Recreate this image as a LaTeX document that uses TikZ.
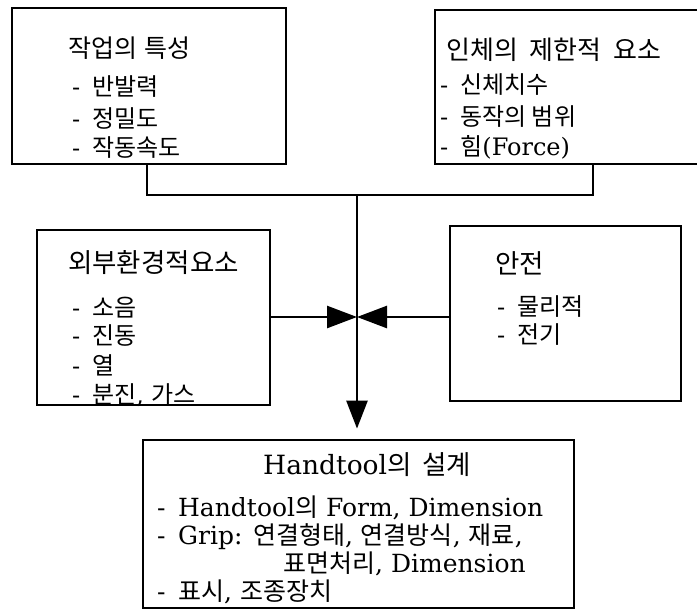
\documentclass[tikz,border=0pt]{standalone}
\usepackage{fontspec}
\setmainfont{DejaVu Serif}
\newfontfamily\kr{Noto Sans CJK KR}
\newcommand{\kor}[1]{{\kr #1}}
\newcommand{\dsh}{-\hspace{0.5em}}
\usetikzlibrary{arrows.meta}
\tikzset{
  box/.style={draw, line width=2.8pt, inner sep=0pt},
  conn/.style={line width=2.6pt},
  harr/.style={line width=2.6pt, -{Triangle[length=30pt,width=22pt]}},
  varr/.style={line width=2.6pt, -{Triangle[length=28pt,width=21pt]}},
  ttl/.style={anchor=west, inner sep=0pt, font=\fontsize{25}{30}\selectfont},
  bigttl/.style={anchor=west, inner sep=0pt, font=\fontsize{26.5}{31}\selectfont},
  txt/.style={anchor=west, inner sep=0pt, font=\fontsize{24}{28}\selectfont},
  btxt/.style={anchor=west, inner sep=0pt, font=\fontsize{25}{29}\selectfont},
}
\begin{document}
\begin{tikzpicture}[x=1pt,y=-1pt]
\useasboundingbox (0,0) rectangle (697,611);
% boxes
\node[box, minimum width=274pt, minimum height=156pt] (b1) at (149,86) {};
\node[box, minimum width=264pt, minimum height=154pt] (b2) at (567,87) {};
\node[box, minimum width=233pt, minimum height=175pt] (b3) at (153.5,317.5) {};
\node[box, minimum width=231pt, minimum height=175pt] (b4) at (565.5,313.5) {};
\node[box, minimum width=431pt, minimum height=168pt] (b5) at (358.5,524) {};
% texts box 1
\node[ttl] (t1) at (68,48) {\kor{작업의\hspace{0.3em}특성}};
\node[txt] (t1a) at (72,87) {\dsh\kor{반발력}};
\node[txt] (t1b) at (72,118) {\dsh\kor{정밀도}};
\node[txt] (t1c) at (72,148) {\dsh\kor{작동속도}};
% box 2
\node[ttl, font=\fontsize{26}{31}\selectfont] (t2) at (446,50) {\kor{인체의\hspace{0.45em}제한적\hspace{0.45em}요소}};
\node[txt] (t2a) at (440,85) {\dsh\kor{신체치수}};
\node[txt] (t2b) at (440,117) {\dsh\kor{동작의 범위}};
\node[txt] (t2c) at (440,147) {\dsh\kor{힘}(Force)};
% box 3
\node[bigttl] (t3) at (68,263) {\kor{외부환경적요소}};
\node[txt] (t3a) at (72,308) {\dsh\kor{소음}};
\node[txt] (t3b) at (72,336) {\dsh\kor{진동}};
\node[txt] (t3c) at (72,365) {\dsh\kor{열}};
\node[txt] (t3d) at (72,395) {\dsh\kor{분진}, \kor{가스}};
% box 4
\node[bigttl] (t4) at (495,263) {\kor{안전}};
\node[txt] (t4a) at (497,307) {\dsh\kor{물리적}};
\node[txt] (t4b) at (497,335) {\dsh\kor{전기}};
% box 5
\node[bigttl] (t5) at (263,465) {Handtool\kor{의\hspace{0.4em}설계}};
\node[btxt] (t5a) at (157,508) {\dsh Handtool\kor{의} Form, Dimension};
\node[btxt] (t5b) at (157,537) {\dsh Grip: \kor{연결형태}, \kor{연결방식}, \kor{재료},};
\node[btxt] (t5c) at (283,564) {\kor{표면처리}, Dimension};
\node[btxt] (t5d) at (157,592) {\dsh\kor{표시}, \kor{조종장치}};
% connectors
\coordinate (c1) at (147,195);
\coordinate (c2) at (593,195);
\coordinate (j) at (357,195);
\coordinate (m) at (357,317);
\draw[conn] (b1.south -| c1) -- (c1) -- (c2) -- (b2.south -| c2);
\draw[varr, shorten >=10pt] (j) -- (b5.north -| j);
\draw[harr] (b3.east |- m) -- (m);
\draw[harr] (b4.west |- m) -- (m);
\end{tikzpicture}
\end{document}
